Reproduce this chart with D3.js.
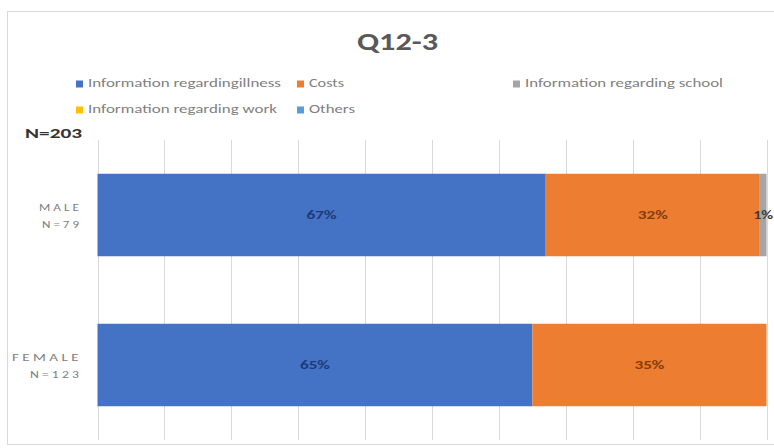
<!DOCTYPE html>
<html><head><meta charset="utf-8">
<script src="https://cdn.jsdelivr.net/npm/d3@7"></script>
<style>body{margin:0;background:#fff}svg{display:block;font-family:Calibri,Carlito,Lato,"Liberation Sans",Arial,sans-serif}</style>
</head><body>
<svg id="c" width="774" height="448"></svg>
<script>
const title = "Q12-3";
const categories = ["MALE|N=79", "FEMALE|N=123"];
const seriesNames = ["Information regardingillness", "Costs", "Information regarding school", "Information regarding work", "Others"];
const seriesColors = ["#4472C4", "#ED7D31", "#A5A5A5", "#FFC000", "#5B9BD5"];
const labelColors = ["#1F3A78", "#843C0C", "#3B3B3B", "#3B3B3B", "#3B3B3B"];
const male = [67, 32, 1, 0, 0];
const female = [65, 35, 0, 0, 0];
const values = [male, female];
const xTicks = d3.range(0, 101, 10);
const nLabel = "N=203";

const svg = d3.select("#c");
// chart border
svg.append("rect").attr("x", 7.5).attr("y", 11.5).attr("width", 780).attr("height", 433)
  .attr("fill", "#fff").attr("stroke", "#d9d9d9");

svg.append("text").attr("x", 357).attr("y", 50).attr("textLength", 81).attr("lengthAdjust", "spacingAndGlyphs")
  .attr("font-size", 24).attr("font-weight", "bold").attr("fill", "#595959").text(title);

// legend
const legendPos = [[76, 84, 193], [297, 84, 35], [513, 84, 198], [76, 110, 189], [297, 110, 46]];
seriesNames.forEach((n, i) => {
  const [lx, ly, lw] = legendPos[i];
  const g = svg.append("g").attr("transform", `translate(${lx},${ly})`);
  g.append("rect").attr("x", 0).attr("y", -3.5).attr("width", 7).attr("height", 7).attr("fill", seriesColors[i]);
  g.append("text").attr("x", 12).attr("y", 3).attr("font-size", 12.5)
    .attr("textLength", lw).attr("lengthAdjust", "spacingAndGlyphs")
    .attr("fill", "#7f7f7f").text(n);
});

svg.append("text").attr("x", 25).attr("y", 138).attr("font-size", 14).attr("font-weight", "bold")
  .attr("textLength", 57).attr("lengthAdjust", "spacingAndGlyphs")
  .attr("fill", "#333").text(nLabel);

const x = d3.scaleLinear().domain([0, 100]).range([97.5, 766.5]);
const y = d3.scaleBand().domain(categories).range([140, 440]).paddingInner(0.45).paddingOuter(0.225);

// gridlines
svg.append("g").selectAll("line").data(xTicks).join("line")
  .attr("x1", d => Math.round(x(d)) + 0.5).attr("x2", d => Math.round(x(d)) + 0.5)
  .attr("y1", 140).attr("y2", 440).attr("stroke", "#d9d9d9").attr("stroke-width", 1);

// stacked bars
const stackData = categories.map((c, ci) => {
  const o = {cat: c};
  seriesNames.forEach((s, si) => o[s] = values[ci][si]);
  return o;
});
const stack = d3.stack().keys(seriesNames)(stackData);
stack.forEach((layer, si) => {
  const g = svg.append("g");
  layer.forEach(d => {
    const w = x(d[1]) - x(d[0]);
    if (w <= 0) return;
    g.append("rect").attr("x", x(d[0])).attr("y", y(d.data.cat))
      .attr("width", w).attr("height", y.bandwidth()).attr("fill", seriesColors[si]);
  });
});
stack.forEach((layer, si) => {
  const g = svg.append("g");
  layer.forEach(d => {
    const w = x(d[1]) - x(d[0]);
    if (w <= 0) return;
    const t = d.data[seriesNames[si]] + "%";
    g.append("text").attr("x", (x(d[0]) + x(d[1])) / 2).attr("y", y(d.data.cat) + y.bandwidth() / 2)
      .attr("dy", "0.35em").attr("text-anchor", "middle").attr("font-size", 12).attr("font-weight", "bold")
      .attr("textLength", t.length * 10).attr("lengthAdjust", "spacingAndGlyphs")
      .attr("fill", labelColors[si]).text(t);
  });
});

// y labels
const yLabelWidths = [[43, 40], [70, 52]];
categories.forEach((c, ci) => {
  const parts = c.split("|");
  const cy = y(c) + y.bandwidth() / 2;
  parts.forEach((p, i) => {
    svg.append("text").attr("x", 82 - yLabelWidths[ci][i]).attr("y", cy - 4.5 + i * 17)
      .attr("font-size", 11).attr("letter-spacing", 2.5)
      .attr("textLength", yLabelWidths[ci][i]).attr("lengthAdjust", "spacingAndGlyphs")
      .attr("fill", "#808080").text(p);
  });
});
</script>
</body></html>
